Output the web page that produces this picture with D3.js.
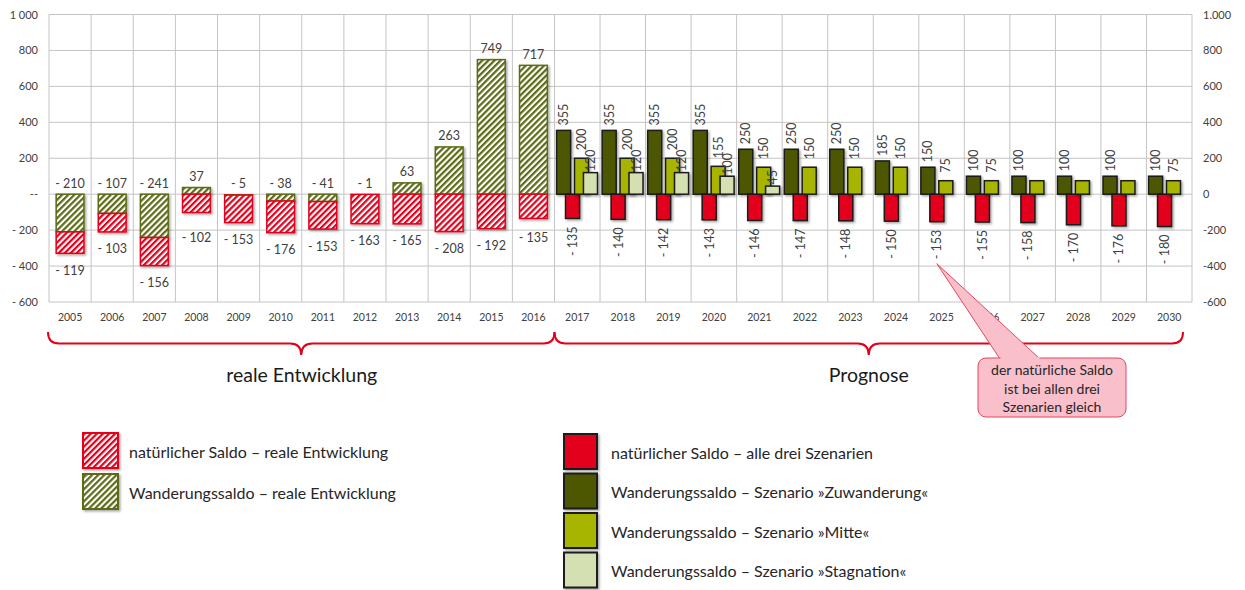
<!DOCTYPE html>
<html>
<head>
<meta charset="utf-8">
<script src="https://cdn.jsdelivr.net/npm/d3@7"></script>
<style>
	body { margin: 0; background: #fff; }
	svg { font-family: Lato, "Open Sans", sans-serif; }
</style>
</head>
<body>
<svg id="chart" width="1245" height="590"></svg>
<script>

// reale Entwicklung
const yearsReal = [2005, 2006, 2007, 2008, 2009, 2010, 2011, 2012, 2013, 2014, 2015, 2016];
const wandReal = [-210, -107, -241, 37, -5, -38, -41, -1, 63, 263, 749, 717];
const natReal = [-119, -103, -156, -102, -153, -176, -153, -163, -165, -208, -192, -135];

// Prognose
const yearsProg = [2017, 2018, 2019, 2020, 2021, 2022, 2023, 2024, 2025, 2026, 2027, 2028, 2029, 2030];
const wandZuw = [355, 355, 355, 355, 250, 250, 250, 185, 150, 100, 100, 100, 100, 100];
const wandMitte = [200, 200, 200, 155, 150, 150, 150, 150, 75, 75, 75, 75, 75, 75];
const wandStag = [120, 120, 120, 100, 45, null, null, null, null, null, null, null, null, null];
const natProg = [-135, -140, -142, -143, -146, -147, -148, -150, -153, -155, -158, -170, -176, -180];
// years where the "Mitte" label is not shown in the original
const mitteNoLabel = [2027, 2028, 2029];

const yTicks = [-600, -400, -200, 0, 200, 400, 600, 800, 1000];

const legendReal = ["natürlicher Saldo – reale Entwicklung", "Wanderungssaldo – reale Entwicklung"];
const legendProg = [
	"natürlicher Saldo – alle drei Szenarien",
	"Wanderungssaldo – Szenario »Zuwanderung«",
	"Wanderungssaldo – Szenario »Mitte«",
	"Wanderungssaldo – Szenario »Stagnation«"
];
const calloutLines = ["der natürliche Saldo", "ist bei allen drei", "Szenarien gleich"];

const colors = {
	red: "#e3001b",
	olive: "#5d6a14",
	zuw: "#4e5703",
	mitte: "#a7b500",
	stag: "#d4e0b1",
	grid: "#c4c4c4",
	label: "#404040"
};

const svg = d3.select("#chart");
const plot = { left: 49, right: 1192, top: 14.5, bottom: 302, split: 554.5 };

// Scales
const y = d3.scaleLinear().domain([-600, 1000]).range([plot.bottom, plot.top]);
const xReal = d3.scaleBand().domain(yearsReal).range([plot.left, plot.split])
	.paddingInner(0.34).paddingOuter(0.17);
const xRealCat = d3.scaleBand().domain(yearsReal).range([plot.left, plot.split]);
const xProg = d3.scaleBand().domain(yearsProg).range([plot.split, plot.right]);
const sub = d3.scalePoint().domain(["zuw", "nat", "mitte", "stag"])
	.range([xProg.bandwidth() * 0.2, xProg.bandwidth() * 0.79]);
const subW = xProg.bandwidth() * 0.308;

// defs: hatch patterns + shadow
const defs = svg.append("defs");
function hatch(id, color) {
	const p = defs.append("pattern")
		.attr("id", id)
		.attr("patternUnits", "userSpaceOnUse")
		.attr("width", 4.3).attr("height", 4.3)
		.attr("patternTransform", "rotate(45)");
	p.append("rect").attr("width", 4.3).attr("height", 4.3).attr("fill", "#fff");
	p.append("rect").attr("width", 2.2).attr("height", 4.3).attr("fill", color);
}
hatch("hatchRed", colors.red);
hatch("hatchOlive", colors.olive);
defs.append("filter").attr("id", "shadow")
	.attr("x", "-20%").attr("y", "-20%").attr("width", "150%").attr("height", "150%")
	.append("feDropShadow")
	.attr("dx", 1.5).attr("dy", 1.5).attr("stdDeviation", 1)
	.attr("flood-color", "#000").attr("flood-opacity", 0.35);

// Grid
const grid = svg.append("g").attr("stroke", colors.grid).attr("stroke-width", 1);
grid.selectAll("line.h").data(yTicks).join("line")
	.attr("x1", plot.left).attr("x2", plot.right)
	.attr("y1", d => y(d)).attr("y2", d => y(d));
const vLines = yearsReal.map(d => xRealCat(d))
	.concat(yearsProg.map(d => xProg(d)))
	.concat([plot.right]);
grid.selectAll("line.v").data(vLines).join("line")
	.attr("x1", d => d).attr("x2", d => d)
	.attr("y1", plot.top).attr("y2", plot.bottom);

// Axes
const fmtLeft = d => d === 0 ? "--" : d === 1000 ? "1 000" : d < 0 ? "- " + Math.abs(d) : d;
const fmtRight = d => d === 1000 ? "1.000" : d;
svg.append("g")
	.attr("transform", `translate(${plot.left - 11},0)`)
	.call(d3.axisLeft(y).tickValues(yTicks).tickFormat(fmtLeft).tickSize(0).tickPadding(0))
	.call(g => g.select(".domain").remove())
	.selectAll("text").attr("font-size", 11).attr("fill", colors.label).attr("font-family", "Lato");
svg.append("g")
	.attr("transform", `translate(${plot.right + 11},0)`)
	.call(d3.axisRight(y).tickValues(yTicks).tickFormat(fmtRight).tickSize(0).tickPadding(0))
	.call(g => g.select(".domain").remove())
	.selectAll("text").attr("font-size", 11).attr("fill", colors.label).attr("font-family", "Lato");

const xAxisG = svg.append("g").attr("font-size", 10.5).attr("fill", colors.label).attr("text-anchor", "middle");
xAxisG.selectAll("text.r").data(yearsReal).join("text")
	.attr("x", d => xRealCat(d) + xRealCat.bandwidth() / 2).attr("y", 321).text(d => d);
xAxisG.selectAll("text.p").data(yearsProg).join("text")
	.attr("x", d => xProg(d) + xProg.bandwidth() / 2).attr("y", 321).text(d => d);

// Real bars (stacked)
const realData = yearsReal.map((yr, i) => {
	const w = wandReal[i], n = natReal[i];
	const base = w < 0 ? w : 0;
	return { yr, w, n, nTop: base, nBot: base + n };
});
const realG = svg.append("g");
realG.selectAll("rect.w").data(realData).join("rect")
	.attr("x", d => xReal(d.yr)).attr("width", xReal.bandwidth())
	.attr("y", d => y(Math.max(0, d.w))).attr("height", d => Math.abs(y(d.w) - y(0)))
	.attr("fill", "url(#hatchOlive)").attr("stroke", colors.olive).attr("stroke-width", 1.5)
	.attr("filter", "url(#shadow)");
realG.selectAll("rect.n").data(realData).join("rect")
	.attr("x", d => xReal(d.yr)).attr("width", xReal.bandwidth())
	.attr("y", d => y(d.nTop)).attr("height", d => y(d.nBot) - y(d.nTop))
	.attr("fill", "url(#hatchRed)").attr("stroke", colors.red).attr("stroke-width", 1.5)
	.attr("filter", "url(#shadow)");

const fmtVal = v => v < 0 ? "- " + Math.abs(v) : "" + v;
const lblG = svg.append("g").attr("font-size", 12.5).attr("fill", colors.label)
	.attr("text-anchor", "middle").attr("dominant-baseline", "central");
lblG.selectAll("text.w").data(realData).join("text")
	.attr("x", d => xReal(d.yr) + xReal.bandwidth() / 2)
	.attr("y", d => d.w < 0 ? y(0) - 10.5 : y(d.w) - 11)
	.text(d => fmtVal(d.w));
lblG.selectAll("text.n").data(realData).join("text")
	.attr("x", d => xReal(d.yr) + xReal.bandwidth() / 2)
	.attr("y", d => Math.max(y(d.nBot) + 17, 237))
	.text(d => fmtVal(d.n));

// Prognose bars
const progData = yearsProg.map((yr, i) => ({
	yr, zuw: wandZuw[i], mitte: wandMitte[i], stag: wandStag[i], nat: natProg[i]
}));
const series = [
	{ key: "zuw", color: colors.zuw, gap: 5 },
	{ key: "nat", color: colors.red, gap: 8 },
	{ key: "mitte", color: colors.mitte, gap: 8 },
	{ key: "stag", color: colors.stag, gap: 1.5 }
];
const progG = svg.append("g");
series.forEach(s => {
	const rows = progData.filter(d => d[s.key] !== null);
	const cx = d => xProg(d.yr) + sub(s.key);
	progG.append("g").selectAll("rect").data(rows).join("rect")
		.attr("x", d => cx(d) - subW / 2).attr("width", subW)
		.attr("y", d => y(Math.max(0, d[s.key])))
		.attr("height", d => Math.abs(y(d[s.key]) - y(0)))
		.attr("fill", s.color).attr("stroke", "#1a1a1a").attr("stroke-width", 1.5)
		.attr("filter", "url(#shadow)");
});
series.forEach(s => {
	const rows = progData.filter(d => d[s.key] !== null && !(s.key === "mitte" && mitteNoLabel.includes(d.yr)));
	const cx = d => xProg(d.yr) + sub(s.key);
	svg.append("g").selectAll("text").data(rows).join("text")
		.attr("transform", d => {
			const v = d[s.key];
			const yy = v < 0 ? y(v) + s.gap : y(v) - s.gap;
			return `translate(${cx(d)},${yy}) rotate(-90)`;
		})
		.attr("text-anchor", d => d[s.key] < 0 ? "end" : "start")
		.attr("dominant-baseline", "central")
		.attr("font-size", 12.5).attr("fill", colors.label)
		.text(d => fmtVal(d[s.key]));
});

// Braces
function brace(x0, x1, top, mid, tip) {
	const xm = (x0 + x1) / 2;
	return `M${x0},${top} Q${x0},${mid} ${x0 + 11},${mid} L${xm - 11},${mid} Q${xm},${mid} ${xm},${tip}` +
		` Q${xm},${mid} ${xm + 11},${mid} L${x1 - 11},${mid} Q${x1},${mid} ${x1},${top}`;
}
svg.append("path").attr("d", brace(plot.left - 1, plot.split, 332, 343.5, 355))
	.attr("fill", "none").attr("stroke", colors.red).attr("stroke-width", 2);
svg.append("path").attr("d", brace(plot.split, plot.right - 9, 332, 343.5, 355))
	.attr("fill", "none").attr("stroke", colors.red).attr("stroke-width", 2);
svg.append("text").attr("x", (plot.left + plot.split) / 2).attr("y", 382)
	.attr("text-anchor", "middle").attr("font-size", 19.5).attr("fill", "#1a1a1a")
	.text("reale Entwicklung");
svg.append("text").attr("x", (plot.split + plot.right - 9) / 2).attr("y", 382)
	.attr("text-anchor", "middle").attr("font-size", 19.5).attr("fill", "#1a1a1a")
	.text("Prognose");

// Callout pointing at the 2025 natural label
const tipYear = 2025;
const tipX = xProg(tipYear) + sub("nat");
const tipY = y(natProg[yearsProg.indexOf(tipYear)]) + 42;
const box = { x: 978, y: 358, w: 148, h: 59 };
const callout = svg.append("g");
callout.append("path")
	.attr("d", `M${tipX},${tipY} L${box.x + 22},${box.y + 1} L${box.x + 62},${box.y + 1} Z`)
	.attr("fill", "#f9bfca").attr("stroke", "#e4465e").attr("stroke-width", 1);
callout.append("rect")
	.attr("x", box.x).attr("y", box.y).attr("width", box.w).attr("height", box.h)
	.attr("rx", 8).attr("fill", "#f9bfca").attr("stroke", "#e4465e").attr("stroke-width", 1);
callout.append("path")
	.attr("d", `M${box.x + 22.5},${box.y} L${box.x + 61.5},${box.y}`)
	.attr("stroke", "#f9bfca").attr("stroke-width", 2);
callout.selectAll("text").data(calloutLines).join("text")
	.attr("x", box.x + box.w / 2).attr("y", (d, i) => box.y + 17 + i * 18.5)
	.attr("text-anchor", "middle").attr("font-size", 14).attr("fill", "#262626")
	.text(d => d);

// Legends
const legL = svg.append("g");
const legLFills = [
	{ fill: "url(#hatchRed)", stroke: colors.red },
	{ fill: "url(#hatchOlive)", stroke: colors.olive }
];
legendReal.forEach((t, i) => {
	const yy = 433 + i * 41;
	legL.append("rect").attr("x", 83).attr("y", yy).attr("width", 35).attr("height", 35)
		.attr("fill", legLFills[i].fill).attr("stroke", legLFills[i].stroke).attr("stroke-width", 2)
		.attr("filter", "url(#shadow)");
	legL.append("text").attr("x", 129).attr("y", yy + 18).attr("dominant-baseline", "central")
		.attr("font-size", 16).attr("fill", "#262626").text(t);
});
const legR = svg.append("g");
const legRFills = [colors.red, colors.zuw, colors.mitte, colors.stag];
legendProg.forEach((t, i) => {
	const yy = 434 + i * 39.5;
	legR.append("rect").attr("x", 564).attr("y", yy).attr("width", 33).attr("height", 35)
		.attr("fill", legRFills[i]).attr("stroke", "#1a1a1a").attr("stroke-width", 2)
		.attr("filter", "url(#shadow)");
	legR.append("text").attr("x", 611).attr("y", yy + 18).attr("dominant-baseline", "central")
		.attr("font-size", 16).attr("fill", "#262626").text(t);
});
</script>
</body>
</html>
